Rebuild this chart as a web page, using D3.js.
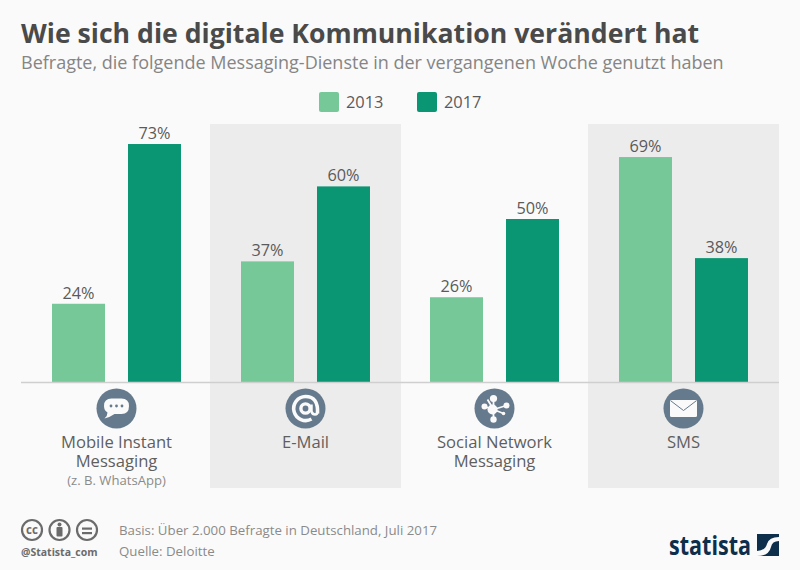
<!DOCTYPE html>
<html><head><meta charset="utf-8">
<script src="https://cdn.jsdelivr.net/npm/d3@7"></script>
<style>html,body{margin:0;padding:0;background:#fafafa}svg{display:block}text{font-family:"Open Sans",sans-serif}</style>
</head><body><svg id="c" width="800" height="570"></svg>
<script>
const categories = ["Mobile Instant Messaging","E-Mail","Social Network Messaging","SMS"];
const categoryLines = [["Mobile Instant","Messaging"],["E-Mail"],["Social Network","Messaging"],["SMS"]];
const years = ["2013","2017"];
const values2013 = [24,37,26,69];
const values2017 = [73,60,50,38];
const colors = ["#76c898","#0a9673"];
const note = "(z. B. WhatsApp)";

const svg = d3.select("#c");
svg.append("rect").attr("width",800).attr("height",570).attr("fill","#fafafa");
const txt=(x,y,s,size,fill,anchor="start",weight=400)=>svg.append("text").attr("x",x).attr("y",y).text(s)
  .attr("font-size",size).attr("fill",fill).attr("text-anchor",anchor).attr("font-weight",weight);

txt(21,43,"Wie sich die digitale Kommunikation verändert hat",26.65,"#4a4a4a","start",700);
txt(21,68.5,"Befragte, die folgende Messaging-Dienste in der vergangenen Woche genutzt haben",18,"#858585");

const x0=d3.scaleBand().domain(categories).range([22,778]);
const x1=d3.scaleBand().domain(years).range([0,x0.bandwidth()]).paddingInner(0.3026).paddingOuter(0.395);
const y=d3.scaleLinear().domain([0,100]).range([382,56]);

// shaded panels
categories.forEach((c,i)=>{ if(i%2) svg.append("rect").attr("x",x0(c)-1).attr("y",124).attr("width",x0.step()+2).attr("height",364).attr("fill","#ececec"); });

// legend
years.forEach((yr,i)=>{
  const lx=[319,417][i];
  svg.append("rect").attr("x",lx).attr("y",92).attr("width",20).attr("height",20).attr("rx",2).attr("fill",colors[i]);
  txt(lx+27,108,yr,16.4,"#5a5a5a");
});

// bars
const series=[values2013,values2017];
categories.forEach((c,i)=>{
  series.forEach((s,j)=>{
    const bx=x0(c)+x1(years[j]);
    svg.append("rect").attr("x",bx).attr("y",y(s[i])).attr("width",x1.bandwidth()).attr("height",y(0)-y(s[i])).attr("fill",colors[j]);
    txt(bx+x1.bandwidth()/2,y(s[i])-5,s[i]+"%",16.3,"#5a5a5a","middle");
  });
});
svg.append("line").attr("x1",21).attr("x2",779).attr("y1",y(0)+.5).attr("y2",y(0)+.5).attr("stroke","#cfcfcf").attr("stroke-width",1.5);

// icons + labels
const ic="#667a8d", w="#fafafa";
categories.forEach((c,i)=>{
  const cx=x0(c)+x0.bandwidth()/2;
  const g=svg.append("g").attr("transform",`translate(${cx},408.5)`);
  g.append("circle").attr("r",20).attr("fill",ic);
  if(i==0){
    g.append("path").attr("d","M-5,-10 H5 Q12.5,-10 12.5,-2.5 Q12.5,5.5 5,5.5 H-2 Q-7,9 -12,10 Q-9,7.5 -9,4 Q-12.5,2 -12.5,-2.5 Q-12.5,-10 -5,-10Z").attr("fill",w);
    [-5.5,0,5.5].forEach(d=>g.append("circle").attr("cx",d).attr("cy",-2.5).attr("r",1.4).attr("fill",ic));
  } else if(i==1){
    g.append("path").attr("d","M12,5 Q13,-12 0,-12 A12,12 0 1 0 6,10.5").attr("fill","none").attr("stroke",w).attr("stroke-width",3.6);
    g.append("circle").attr("r",4.6).attr("fill","none").attr("stroke",w).attr("stroke-width",3.4);
    g.append("path").attr("d","M6,-4 V3 Q7,6 9.5,6 Q12,6 12,3").attr("fill","none").attr("stroke",w).attr("stroke-width",2.5);
  } else if(i==2){
    const nodes=[[-1,-10,3.6],[-10,-2,3],[12,-3,3],[-1,11,3.2],[9,5,1.8],[-7,-9,0]];
    nodes.forEach(n=>{ g.append("line").attr("x1",-1).attr("y1",1).attr("x2",n[0]).attr("y2",n[1]).attr("stroke",w).attr("stroke-width",1.8);
      if(n[2]) g.append("circle").attr("cx",n[0]).attr("cy",n[1]).attr("r",n[2]).attr("fill",w); });
    g.append("circle").attr("cx",-2).attr("cy",1).attr("r",5).attr("fill",w);
  } else {
    g.append("rect").attr("x",-13.5).attr("y",-8.5).attr("width",27).attr("height",17).attr("rx",1.5).attr("fill",w);
    g.append("path").attr("d","M-12.5,-7.5 L0,2 L12.5,-7.5").attr("fill","none").attr("stroke",ic).attr("stroke-width",1);
  }
  const t=svg.append("text").attr("font-size",16.6).attr("fill","#5f5f5f").attr("text-anchor","middle");
  categoryLines[i].forEach((l,k)=>t.append("tspan").attr("x",cx).attr("y",448+k*18.5).text(l));
});
txt(x0(categories[0])+x0.bandwidth()/2,485,note,13.1,"#8a8a8a","middle");

// footer
const ccg=svg.append("g");
[[32,530],[59.5,530],[87,530]].forEach(p=>ccg.append("circle").attr("cx",p[0]).attr("cy",p[1]).attr("r",10).attr("fill","none").attr("stroke","#6b6b6b").attr("stroke-width",2.2));
txt(32,534,"cc",11.5,"#6b6b6b","middle",700);
ccg.append("circle").attr("cx",59.5).attr("cy",524.5).attr("r",2).attr("fill","#6b6b6b");
ccg.append("rect").attr("x",56.5).attr("y",527).attr("width",6).attr("height",9.5).attr("rx",1).attr("fill","#6b6b6b");
[527.5,532].forEach(v=>ccg.append("rect").attr("x",82).attr("y",v).attr("width",10).attr("height",2.2).attr("fill","#6b6b6b"));
txt(21,556,"@Statista_com",10.5,"#6b6b6b","start",700);
txt(119,535,"Basis: Über 2.000 Befragte in Deutschland, Juli 2017",13.27,"#8a8a8a");
txt(119,556,"Quelle: Deloitte",13.27,"#8a8a8a");

txt(669,555,"statista",27,"#0e2f4c","start",700).attr("textLength",82).attr("lengthAdjust","spacingAndGlyphs");
svg.append("rect").attr("x",757).attr("y",534).attr("width",22).attr("height",22).attr("fill","#0e2f4c");
svg.append("path").attr("d","M757,556 V551 Q765,551 767,544 Q769,537 779,537 V541 Q772,541 771,547 Q769,556 757,556Z").attr("fill",w);
</script></body></html>
